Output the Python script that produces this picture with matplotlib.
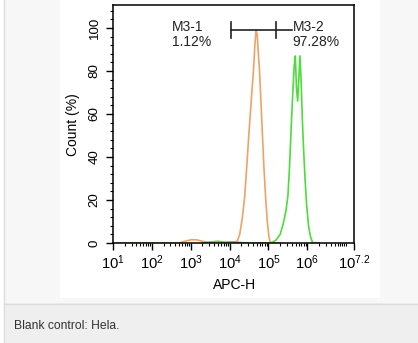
import numpy as np
import matplotlib.pyplot as plt
from matplotlib.patches import Rectangle
from matplotlib.ticker import FixedLocator, MultipleLocator, NullFormatter

plt.rcParams['font.family'] = 'Liberation Sans'
plt.rcParams['mathtext.fontset'] = 'custom'
plt.rcParams['mathtext.rm'] = 'Liberation Sans'
plt.rcParams['mathtext.it'] = 'Liberation Sans'

# histogram traces (x as log10 of APC-H, y as count %)
blank_logx = [1.0, 2.7, 2.85, 3.0, 3.15, 3.3, 3.45, 3.6, 4.1, 4.2, 4.26, 4.33, 4.39, 4.45,
              4.5, 4.54, 4.58, 4.62, 4.65, 4.68, 4.71, 4.74, 4.77, 4.8, 4.84, 4.88, 4.93,
              4.97, 5.01, 5.05, 5.3]
blank_y = [0, 0, 0.8, 1.5, 1.5, 0.8, 0.2, 0, 0, 1, 4, 12, 22, 38,
           52, 62, 72, 82, 92, 99, 97, 88, 80, 68, 52, 36, 20,
           10, 3, 0, 0]

stain_logx = [3.3, 3.5, 3.7, 3.9, 4.1, 4.3, 4.5, 5.05, 5.12, 5.2, 5.3, 5.38, 5.45, 5.5,
              5.54, 5.58, 5.62, 5.66, 5.69, 5.72, 5.75, 5.78, 5.81, 5.84, 5.87, 5.9,
              5.94, 5.98, 6.03, 6.08, 6.14, 6.3]
stain_y = [0, 0.5, 0.8, 0.4, 0.6, 0.2, 0, 0, 0.5, 1.5, 4, 9, 15, 22,
           35, 52, 68, 82, 87, 72, 66, 76, 87, 75, 58, 45,
           30, 18, 8, 3, 0, 0]

# gates
gate_edges = [4.03, 5.19, 5.6]
gate_y = 99
gate_labels = ['M3-1\n1.12%', 'M3-2\n97.28%']
gate_label_x = [2.52, 5.62]

xtick_exp = [1, 2, 3, 4, 5, 6, 7.2]
xtick_labels = ['$10^{1}$', '$10^{2}$', '$10^{3}$', '$10^{4}$', '$10^{5}$', '$10^{6}$', '$10^{7.2}$']

W, H = 418, 343
fig = plt.figure(figsize=(W / 100, H / 100), dpi=100)
fig.patch.set_facecolor('white')

# page background pieces
fig.add_artist(Rectangle((4 / W, 1 - 303 / H), 1, 303 / H, transform=fig.transFigure,
                         facecolor='#f7f7f7', edgecolor='none', zorder=-10))
fig.add_artist(Rectangle((4 / W, 0), 1, 1 - 303 / H, transform=fig.transFigure,
                         facecolor='#efefef', edgecolor='none', zorder=-10))
fig.add_artist(Rectangle((60 / W, 1 - 298 / H), 320 / W, 298 / H, transform=fig.transFigure,
                         facecolor='white', edgecolor='none', zorder=-9))
fig.add_artist(plt.Line2D([4 / W, 4 / W], [0, 1], transform=fig.transFigure,
                          color='#dcdcdc', lw=1, zorder=-8))
fig.add_artist(plt.Line2D([4 / W, 1], [1 - 303.5 / H, 1 - 303.5 / H], transform=fig.transFigure,
                          color='#dcdcdc', lw=1, zorder=-8))

ax = fig.add_axes([113 / W, 100 / H, 241 / W, 238 / H])
ax.set_facecolor('none')

ax.plot(np.power(10.0, blank_logx), blank_y, color='#f0a264', lw=1.2)
ax.plot(np.power(10.0, stain_logx), stain_y, color='#4cdc3c', lw=1.2)

# gate markers
gx = np.power(10.0, gate_edges)
ax.plot([gx[0], gx[2]], [gate_y, gate_y], color='#222222', lw=1.2)
for g in gx[:2]:
    ax.plot([g, g], [gate_y - 3.7, gate_y + 3.7], color='#222222', lw=1.2)
for lx, lab in zip(gate_label_x, gate_labels):
    ax.text(10 ** lx, gate_y + 4.5, lab, fontsize=10, color='#222222', va='top', ha='left',
            linespacing=1.05)

ax.set_xscale('log')
ax.set_xlim(10 ** 1, 10 ** 7.2)
ax.set_ylim(0, 110.7)

ax.xaxis.set_major_locator(FixedLocator(np.power(10.0, xtick_exp)))
ax.set_xticklabels(xtick_labels)
minor = [m * 10 ** d for d in range(1, 8) for m in range(2, 11) if m * 10 ** d < 10 ** 7.2]
ax.xaxis.set_minor_locator(FixedLocator(minor))
ax.xaxis.set_minor_formatter(NullFormatter())

ax.set_yticks([0, 20, 40, 60, 80, 100])
ax.yaxis.set_minor_locator(MultipleLocator(4))
for lab in ax.get_yticklabels():
    lab.set_rotation(90)
    lab.set_va('center')

ax.tick_params(which='major', length=5, width=1, pad=3, direction='out')
ax.tick_params(axis='x', which='major', labelsize=10.6, pad=2.5)
ax.tick_params(axis='y', which='major', labelsize=9.6, pad=4)
ax.tick_params(which='minor', length=2.5, width=0.8, direction='out')
for s in ax.spines.values():
    s.set_linewidth(1.1)

fig.text(235 / W, 1 - 285 / H, 'APC-H', fontsize=10, ha='center', va='center')
fig.text(73 / W, 1 - 125 / H, 'Count (%)', fontsize=10, ha='center', va='center', rotation=90)
fig.text(13.5 / W, 1 - 326 / H, 'Blank control: Hela.', fontsize=8.7, color='#333333',
         ha='left', va='center')

fig.savefig('out.png', dpi=100)
